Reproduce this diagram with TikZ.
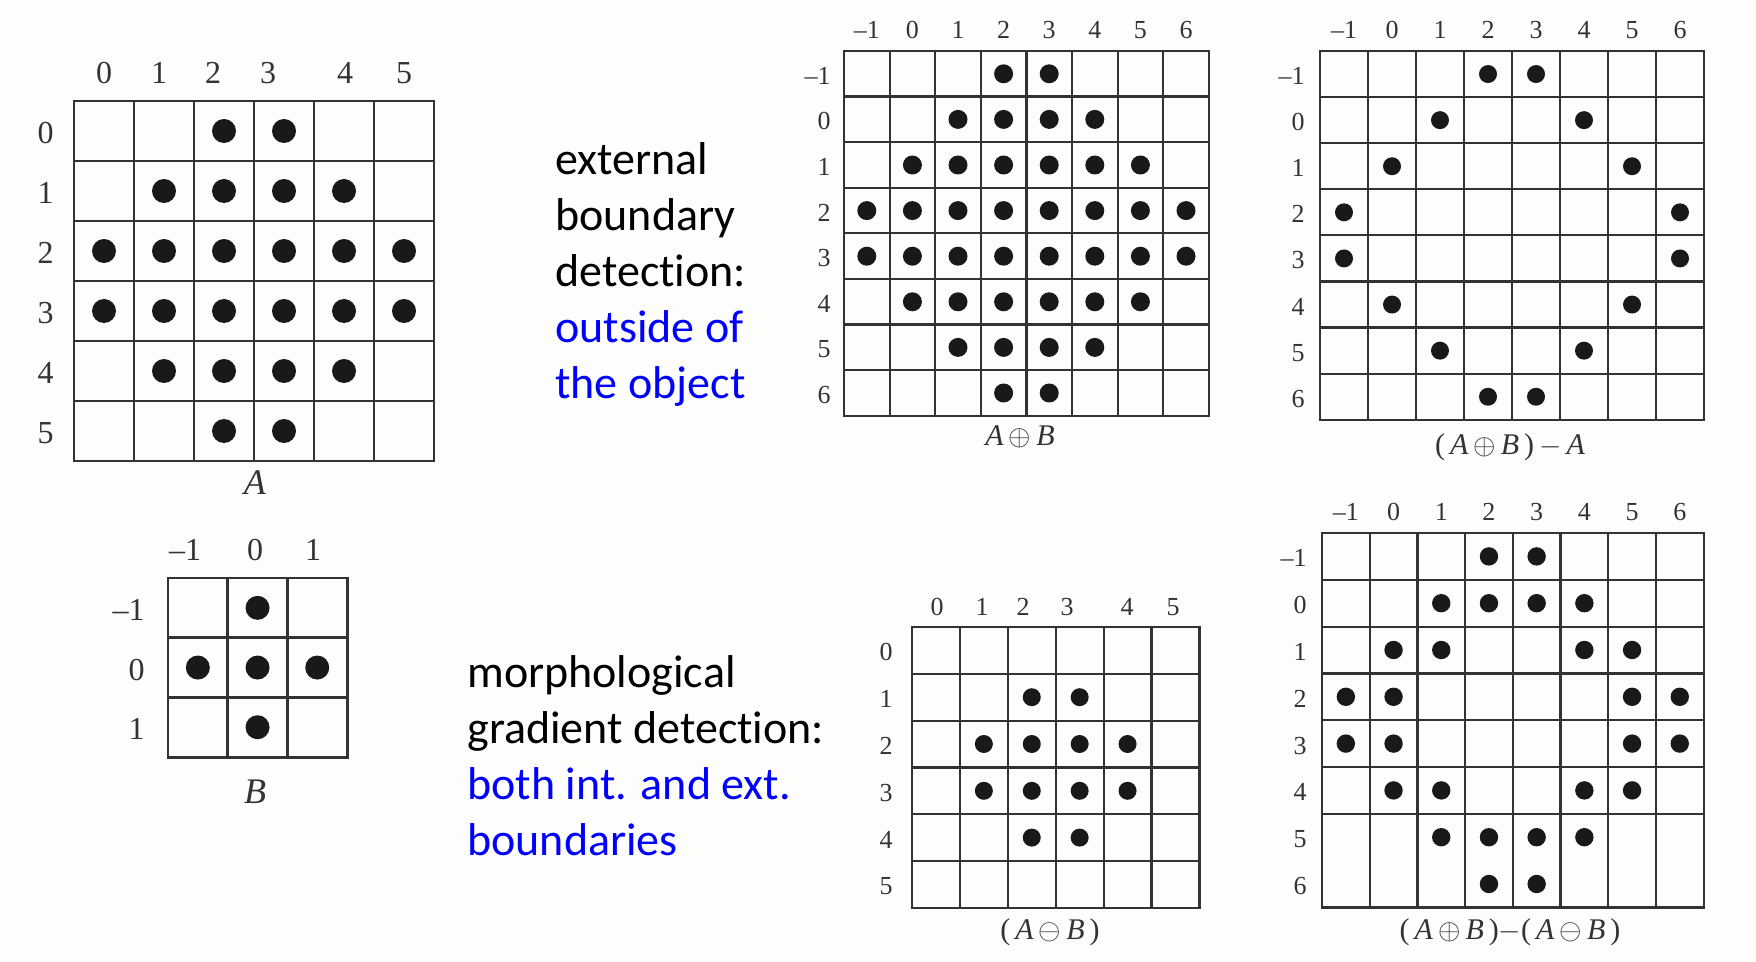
\documentclass[tikz,border=0pt]{standalone}
\usepackage{fontspec}
\setmainfont{Liberation Serif}
\newfontfamily\calib[Ligatures=NoCommon]{Carlito}
\definecolor{ink}{gray}{0.2}
\definecolor{dotc}{gray}{0.1}
\definecolor{txtblue}{rgb}{0,0,1}
\definecolor{bgc}{rgb}{0.992,0.992,0.985}
\newcommand{\lbl}[1]{\ifnum#1<0 \textendash\number\numexpr-#1\relax\else#1\fi}
% #1 x0, #2 y0, #3 w, #4 h, #5 n, #6 min index, #7 dot radius, #8 dots c/r, #9 horizontal line indices
\newcommand{\morphgrid}[9]{%
  \foreach \i in {0,...,#5}{\draw[gridline] ({#1+\i*#3},{#2}) -- ({#1+\i*#3},{#2+#5*#4});}
  \foreach \j in {#9}{\draw[gridline] ({#1},{#2+\j*#4}) -- ({#1+#5*#3},{#2+\j*#4});}
  \foreach \c/\r in {#8}{\fill[dot] ({#1+(\c-(#6)+0.5)*#3},{#2+(\r-(#6)+0.5)*#4}) circle[radius=#7];}
}
\begin{document}
\begin{tikzpicture}[x=0.5pt,y=-0.5pt,
  gridline/.style={draw=ink, line width=1.1pt, line cap=rect},
  dot/.style={fill=dotc},
  labL/.style={text=ink, font=\fontsize{16}{18}\selectfont, inner sep=0pt},
  labS/.style={text=ink, font=\fontsize{13}{15}\selectfont, inner sep=0pt},
  capL/.style={text=ink, font=\fontsize{18}{20}\selectfont, inner sep=0pt},
  capS/.style={text=ink, font=\fontsize{15}{17}\selectfont, inner sep=0pt},
  txt/.style={font=\calib\fontsize{23}{28}\selectfont, align=left, inner sep=0pt, anchor=base west}]
\useasboundingbox[fill=bgc] (0,0) rectangle (1756,962);

% ---------- Grid A ----------
\begin{scope}[gridline/.append style={line width=1.4pt}]
\morphgrid{74}{101}{60}{60}{6}{0}{6pt}{2/0,3/0,1/1,2/1,3/1,4/1,0/2,1/2,2/2,3/2,4/2,5/2,0/3,1/3,2/3,3/3,4/3,5/3,1/4,2/4,3/4,4/4,2/5,3/5}{0,...,6}
\end{scope}
\foreach \v/\x in {0/104,1/159,2/213,3/268,4/345,5/404}{\node[labL] (Ac\v) at (\x,73) {\v};}
\foreach \v in {0,...,5}{\node[labL,anchor=east] (Ar\v) at (54,{133+60*\v}) {\v};}
\node[capL] (Acap) at (255,483) {\textit{A}};

% ---------- Grid B ----------
\begin{scope}[gridline/.append style={line width=1.4pt}]
\morphgrid{168}{578}{59.7}{59.7}{3}{-1}{6pt}{0/-1,-1/0,0/0,1/0,0/1}{0,...,3}
\end{scope}
\foreach \v/\x in {-1/185,0/255,1/313}{\node[labL] (Bc\v) at (\x,550) {\lbl{\v}};}
\foreach \v in {-1,0,1}{\node[labL,anchor=east] (Br\v) at (145,{610+59.7*(\v+1)}) {\lbl{\v}};}
\node[capL] (Bcap) at (255,792) {\textit{B}};

% ---------- Grid A dilated by B ----------
\morphgrid{844}{51}{45.6}{45.6}{8}{-1}{4.75pt}{2/-1,3/-1,1/0,2/0,3/0,4/0,0/1,1/1,2/1,3/1,4/1,5/1,-1/2,0/2,1/2,2/2,3/2,4/2,5/2,6/2,-1/3,0/3,1/3,2/3,3/3,4/3,5/3,6/3,0/4,1/4,2/4,3/4,4/4,5/4,1/5,2/5,3/5,4/5,2/6,3/6}{0,...,8}
\foreach \v in {-1,...,6}{\node[labS] (Dc\v) at ({844+(\v+1.5)*45.6},30) {\lbl{\v}};}
\foreach \v in {-1,...,6}{\node[labS,anchor=east] (Dr\v) at (831,{53+(\v+1.5)*45.6}) {\lbl{\v}};}
\node[capS] (Dcap) at (1020,437) {\textit{A}\,$\oplus$\,\textit{B}};

% ---------- Grid (A+B)-A ----------
\morphgrid{1320}{51}{48}{46.1}{8}{-1}{4.5pt}{2/-1,3/-1,1/0,4/0,0/1,5/1,-1/2,6/2,-1/3,6/3,0/4,5/4,1/5,4/5,2/6,3/6}{0,...,8}
\foreach \v in {-1,...,6}{\node[labS] (Ec\v) at ({1320+(\v+1.5)*48},30) {\lbl{\v}};}
\foreach \v in {-1,...,6}{\node[labS,anchor=east] (Er\v) at (1305,{53+(\v+1.5)*46.1}) {\lbl{\v}};}
\node[capS] (Ecap) at (1510,447) {(\,\textit{A}\,$\oplus$\,\textit{B}\,)\,$-$\,\textit{A}};

% ---------- Grid A eroded by B ----------
\morphgrid{912}{627}{47.9}{46.8}{6}{0}{4.5pt}{2/1,3/1,1/2,2/2,3/2,4/2,1/3,2/3,3/3,4/3,2/4,3/4}{0,...,6}
\foreach \v/\x in {0/937,1/982,2/1023,3/1067,4/1127,5/1173}{\node[labS] (Fc\v) at (\x,607) {\v};}
\foreach \v in {0,...,5}{\node[labS,anchor=east] (Fr\v) at (893,{629+(\v+0.5)*46.8}) {\v};}
\node[capS] (Fcap) at (1050,932) {(\,\textit{A}\,$\ominus$\,\textit{B}\,)};

% ---------- Grid gradient ----------
\morphgrid{1322}{533}{47.7}{46.8}{8}{-1}{4.6pt}{2/-1,3/-1,1/0,2/0,3/0,4/0,0/1,1/1,4/1,5/1,-1/2,0/2,5/2,6/2,-1/3,0/3,5/3,6/3,0/4,1/4,4/4,5/4,1/5,2/5,3/5,4/5,2/6,3/6}{0,1,2,3,4,5,6,8}
\foreach \v in {-1,...,6}{\node[labS] (Gc\v) at ({1322+(\v+1.5)*47.7},512) {\lbl{\v}};}
\foreach \v in {-1,...,6}{\node[labS,anchor=east] (Gr\v) at (1307,{535+(\v+1.5)*46.8}) {\lbl{\v}};}
\node[capS] (Gcap) at (1510,932) {(\,\textit{A}\,$\oplus$\,\textit{B}\,)$-$(\,\textit{A}\,$\ominus$\,\textit{B}\,)};

% ---------- Texts (anchored at baseline of last line) ----------
\node[txt] (ext) at (555,399) {external\\boundary\\detection:\\\textcolor{txtblue}{outside of}\\\textcolor{txtblue}{the object}};
\node[txt] (grad) at (467,855) {morphological\\gradient detection:\\\textcolor{txtblue}{both int. and ext.}\\\textcolor{txtblue}{boundaries}};
\end{tikzpicture}
\end{document}
